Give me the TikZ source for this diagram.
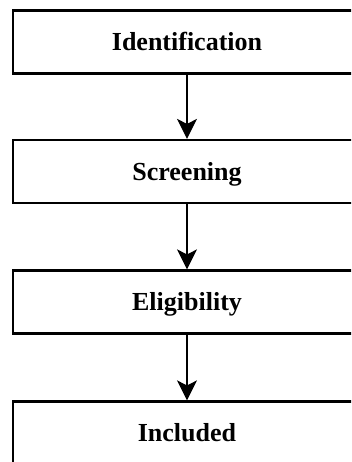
\documentclass[tikz,border=0pt]{standalone}
\usepackage{fontspec}
\setmainfont{Liberation Serif}
\usetikzlibrary{arrows.meta}
\begin{document}
\begin{tikzpicture}[x=1pt,y=-1pt,
  stagebox/.style={draw=black, line width=2.2pt, minimum width=348pt, minimum height=63pt,
    inner sep=0pt, text height=17pt, text depth=0pt,
    font=\fontsize{26}{30}\selectfont\bfseries},
  flow/.style={draw=black, line width=1.3pt, -{Stealth[length=20pt,width=20pt,inset=5pt]}}]
\useasboundingbox (0,0) rectangle (351,462);
\clip (0,0) rectangle (351,462);
\node[stagebox] (id) at (187,42) {Identification};
\node[stagebox] (sc) at (187,171.5) {Screening};
\node[stagebox] (el) at (187,302) {Eligibility};
\node[stagebox] (in) at (187,433) {Included};
\draw[flow] (id.south) -- (sc.north);
\draw[flow] (sc.south) -- (el.north);
\draw[flow] (el.south) -- (in.north);
\end{tikzpicture}
\end{document}
